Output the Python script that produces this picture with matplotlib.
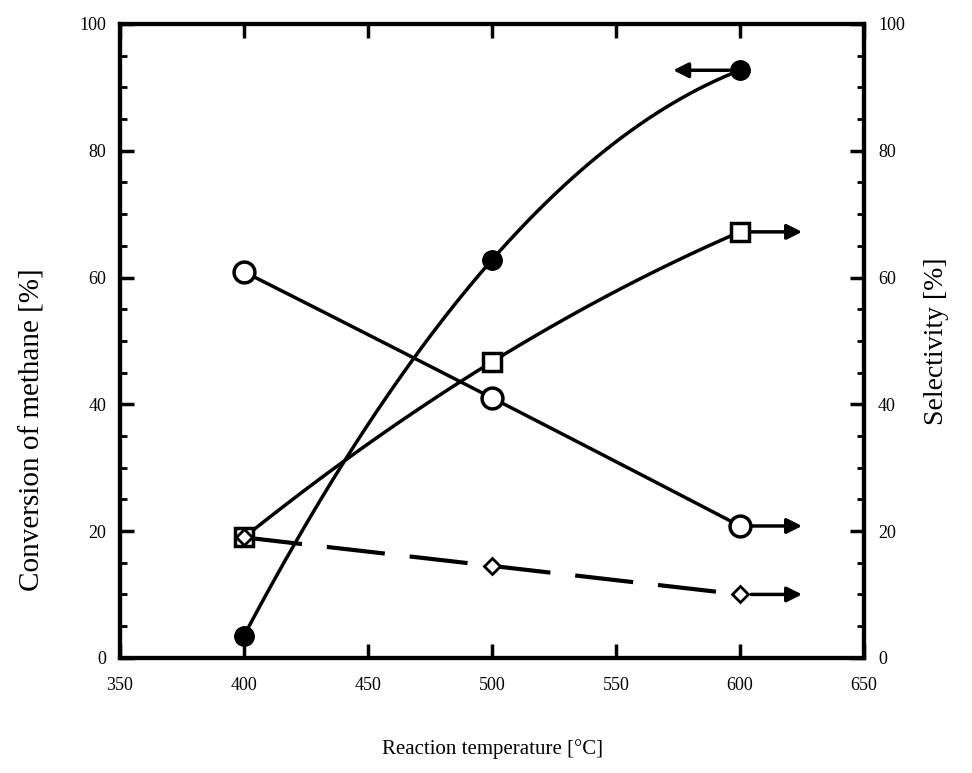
import numpy as np
import matplotlib
matplotlib.use('Agg')
import matplotlib.pyplot as plt

plt.rcParams['font.family'] = ['Liberation Serif', 'DejaVu Serif']

temps = [400, 500, 600]
conversion = [3.5, 62.8, 92.7]        # filled circles, left axis
sel_circle = [60.9, 41.0, 20.8]       # open circles, right axis
sel_square = [19.0, 46.7, 67.2]       # open squares, right axis
sel_diamond = [19.0, 14.5, 10.0]      # small diamonds, dashed, right axis

xticks = [350, 400, 450, 500, 550, 600, 650]
yticks = [0, 20, 40, 60, 80, 100]

fig = plt.figure(figsize=(9.72, 7.73), dpi=100)
ax = fig.add_axes([0.1235, 0.149, 0.7655, 0.82])
ax2 = ax.twinx()


def smooth(x, y):
    c = np.polyfit(x, y, 2)
    xs = np.linspace(x[0], x[-1], 60)
    return xs, np.polyval(c, xs)


xs, ys = smooth(temps, conversion)
ax.plot(xs, ys, color='black', lw=2.5)
ax.plot(temps, conversion, 'o', color='black', ms=14)

xs, ys = smooth(temps, sel_circle)
ax2.plot(xs, ys, color='black', lw=2.5)
ax2.plot(temps, sel_circle, 'o', mfc='white', mec='black', mew=2.5, ms=15)

xs, ys = smooth(temps, sel_square)
ax2.plot(xs, ys, color='black', lw=2.5)
ax2.plot(temps, sel_square, 's', mfc='white', mec='black', mew=2.5, ms=13)

xs, ys = smooth(temps, sel_diamond)
ax2.plot(xs, ys, color='black', lw=3, dashes=(14, 6))
ax2.plot(temps, sel_diamond, 'D', mfc='white', mec='black', mew=2, ms=8)

# arrows pointing to the axis each series belongs to
arrow = dict(arrowstyle='-|>,head_length=0.9,head_width=0.45', color='black', lw=2.5,
             shrinkA=8, shrinkB=0)
ax.annotate('', xy=(573, conversion[-1]), xytext=(temps[-1], conversion[-1]), arrowprops=arrow)
for s in (sel_circle, sel_square, sel_diamond):
    ax2.annotate('', xy=(625, s[-1]), xytext=(temps[-1], s[-1]), arrowprops=arrow)

ax.set_xlim(350, 650)
ax.set_ylim(0, 100)
ax2.set_ylim(0, 100)
ax.set_xticks(xticks)
ax.set_yticks(yticks)
ax2.set_yticks(yticks)
ax.set_yticks(np.arange(0, 101, 5), minor=True)
ax2.set_yticks(np.arange(0, 101, 5), minor=True)

for a in (ax, ax2):
    a.tick_params(direction='in', length=10, width=2.5, labelsize=13, pad=10)
    a.tick_params(which='minor', direction='in', length=5, width=2)
    for sp in a.spines.values():
        sp.set_linewidth(3)
ax.tick_params(axis='x', top=True, pad=14)

ax.set_xlabel('Reaction temperature [°C]', fontsize=15, labelpad=32)
ax.set_ylabel('Conversion of methane [%]', fontsize=21)
ax.yaxis.set_label_coords(-0.1, 0.36)
ax2.set_ylabel('Selectivity [%]', fontsize=20, labelpad=14)

fig.savefig('out.png', dpi=100)
